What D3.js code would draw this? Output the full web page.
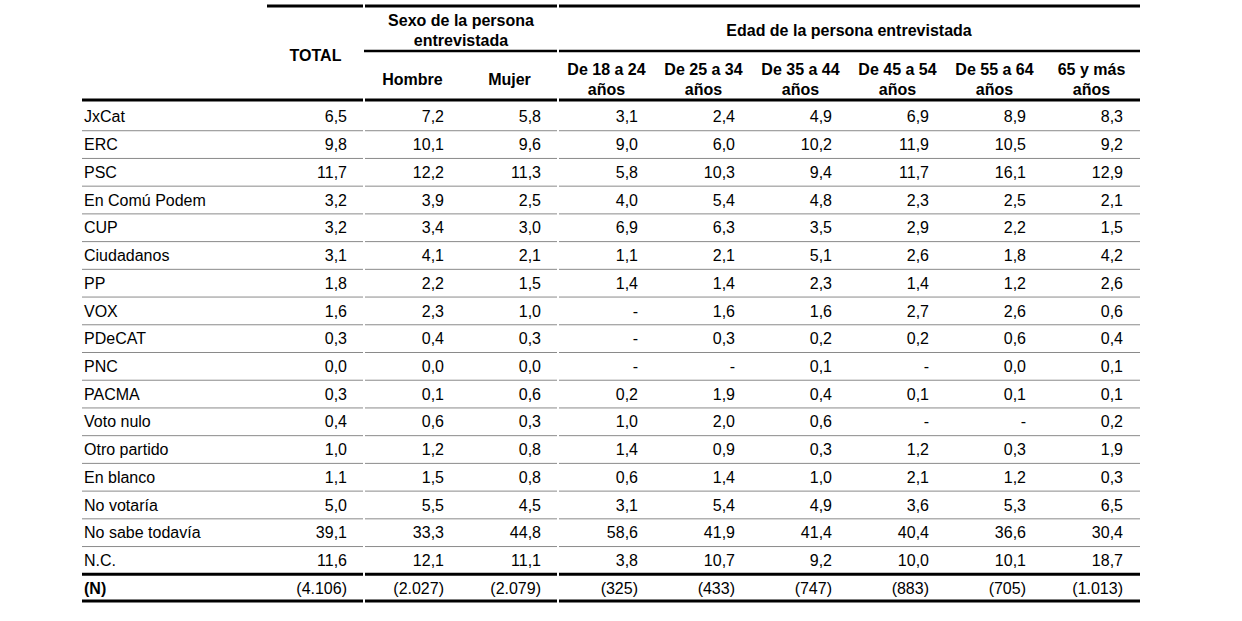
<!DOCTYPE html>
<html>
<head>
<meta charset="utf-8">
<script src="https://cdn.jsdelivr.net/npm/d3@7"></script>
<style>
  html, body { margin: 0; padding: 0; background: #fff; }
  svg { display: block; font-family: "Liberation Sans", Arial, sans-serif; }
</style>
</head>
<body>
<div id="table"></div>
<script>
// Filas (partidos / respuestas)
const rowLabels = ['JxCat', 'ERC', 'PSC', 'En Comú Podem', 'CUP', 'Ciudadanos', 'PP', 'VOX', 'PDeCAT', 'PNC',
    'PACMA', 'Voto nulo', 'Otro partido', 'En blanco', 'No votaría', 'No sabe todavía', 'N.C.'];

// Columnas
const columnKeys = ['total', 'hombre', 'mujer', 'e18', 'e25', 'e35', 'e45', 'e55', 'e65'];
const subHeaders = [[], ['Hombre'], ['Mujer'], ['De 18 a 24', 'años'], ['De 25 a 34', 'años'], ['De 35 a 44', 'años'],
    ['De 45 a 54', 'años'], ['De 55 a 64', 'años'], ['65 y más', 'años']];

// Valores por columna (null = "-")
const total  = [6.5, 9.8, 11.7, 3.2, 3.2, 3.1, 1.8, 1.6, 0.3, 0.0, 0.3, 0.4, 1.0, 1.1, 5.0, 39.1, 11.6];
const hombre = [7.2, 10.1, 12.2, 3.9, 3.4, 4.1, 2.2, 2.3, 0.4, 0.0, 0.1, 0.6, 1.2, 1.5, 5.5, 33.3, 12.1];
const mujer  = [5.8, 9.6, 11.3, 2.5, 3.0, 2.1, 1.5, 1.0, 0.3, 0.0, 0.6, 0.3, 0.8, 0.8, 4.5, 44.8, 11.1];
const e18    = [3.1, 9.0, 5.8, 4.0, 6.9, 1.1, 1.4, null, null, null, 0.2, 1.0, 1.4, 0.6, 3.1, 58.6, 3.8];
const e25    = [2.4, 6.0, 10.3, 5.4, 6.3, 2.1, 1.4, 1.6, 0.3, null, 1.9, 2.0, 0.9, 1.4, 5.4, 41.9, 10.7];
const e35    = [4.9, 10.2, 9.4, 4.8, 3.5, 5.1, 2.3, 1.6, 0.2, 0.1, 0.4, 0.6, 0.3, 1.0, 4.9, 41.4, 9.2];
const e45    = [6.9, 11.9, 11.7, 2.3, 2.9, 2.6, 1.4, 2.7, 0.2, null, 0.1, null, 1.2, 2.1, 3.6, 40.4, 10.0];
const e55    = [8.9, 10.5, 16.1, 2.5, 2.2, 1.8, 1.2, 2.6, 0.6, 0.0, 0.1, null, 0.3, 1.2, 5.3, 36.6, 10.1];
const e65    = [8.3, 9.2, 12.9, 2.1, 1.5, 4.2, 2.6, 0.6, 0.4, 0.1, 0.1, 0.2, 1.9, 0.3, 6.5, 30.4, 18.7];

// Tamaño de muestra (N)
const sampleN = [4106, 2027, 2079, 325, 433, 747, 883, 705, 1013];

const series = { total, hombre, mujer, e18, e25, e35, e45, e55, e65 };

const width = 1242, height = 621;
const locale = d3.formatLocale({ decimal: ',', thousands: '.', grouping: [3], currency: ['', '€'] });
const fmtPct = locale.format('.1f');
const fmtN = locale.format(',d');

const svg = d3.select('#table')
    .append('svg')
    .attr('width', width)
    .attr('height', height);

// Escalas
const xScale = d3.scaleBand()
    .domain(columnKeys)
    .range([267, 1140]);

const allRows = [...rowLabels, '(N)'];
const yScale = d3.scaleBand()
    .domain(allRows)
    .range([103, 602]);

const labelX = 84;
const tableLeft = 82, tableRight = 1140;
const gap = 2;
const breaks = [xScale('hombre'), xScale('e18')];

// segmentos con pequeños cortes entre grupos de columnas
function segments(x0, x1) {
    const pts = [x0, ...breaks.filter(b => b > x0 && b < x1), x1];
    const out = [];
    for (let i = 0; i < pts.length - 1; i++) {
        out.push([pts[i] + (i > 0 ? gap / 2 : 0), pts[i + 1] - (i < pts.length - 2 ? gap / 2 : 0)]);
    }
    return out;
}

function hline(y, x0, x1, w, color) {
    segments(x0, x1).forEach(([a, b]) => {
        svg.append('line')
            .attr('x1', a).attr('x2', b)
            .attr('y1', y).attr('y2', y)
            .attr('stroke', color)
            .attr('stroke-width', w);
    });
}

// Líneas finas entre filas
rowLabels.slice(1).forEach(r => hline(yScale(r), tableLeft, tableRight, 1, '#8a8a8a'));

// Líneas gruesas
hline(6, xScale('total'), tableRight, 3, '#000');
hline(51, xScale('hombre'), tableRight, 2.5, '#000');
hline(100, tableLeft, tableRight, 3, '#000');
hline(yScale('(N)'), tableLeft, tableRight, 3, '#000');
hline(yScale('(N)') + yScale.bandwidth() - 1, tableLeft, tableRight, 3, '#000');

// Cabeceras
const head = svg.append('g')
    .attr('font-weight', 'bold')
    .attr('font-size', 16)
    .attr('fill', '#000')
    .attr('text-anchor', 'middle');

const colCenter = k => xScale(k) + xScale.bandwidth() / 2;

head.append('text').attr('x', colCenter('total')).attr('y', 55).attr('dy', '0.35em').text('TOTAL');

const sexCenter = (xScale('hombre') + xScale('mujer') + xScale.bandwidth()) / 2;
head.append('text').attr('x', sexCenter).attr('y', 20).attr('dy', '0.35em').text('Sexo de la persona');
head.append('text').attr('x', sexCenter).attr('y', 40).attr('dy', '0.35em').text('entrevistada');

const ageCenter = (xScale('e18') + xScale('e65') + xScale.bandwidth()) / 2;
head.append('text').attr('x', ageCenter).attr('y', 30).attr('dy', '0.35em').text('Edad de la persona entrevistada');

columnKeys.forEach((k, i) => {
    const lines = subHeaders[i];
    if (lines.length === 1) {
        head.append('text').attr('x', colCenter(k)).attr('y', 79).attr('dy', '0.35em').text(lines[0]);
    } else if (lines.length === 2) {
        head.append('text').attr('x', colCenter(k)).attr('y', 69).attr('dy', '0.35em').text(lines[0]);
        head.append('text').attr('x', colCenter(k)).attr('y', 89).attr('dy', '0.35em').text(lines[1]);
    }
});

// Cuerpo
const body = svg.append('g')
    .attr('font-size', 16)
    .attr('fill', '#000');

const valueX = k => xScale(k) + xScale.bandwidth() - 17;
const rowCenter = r => yScale(r) + yScale.bandwidth() / 2;

rowLabels.forEach((r, i) => {
    body.append('text')
        .attr('x', labelX)
        .attr('y', rowCenter(r))
        .attr('dy', '0.35em')
        .text(r);

    columnKeys.forEach(k => {
        const v = series[k][i];
        body.append('text')
            .attr('x', valueX(k))
            .attr('y', rowCenter(r))
            .attr('dy', '0.35em')
            .attr('text-anchor', 'end')
            .text(v === null ? '-' : fmtPct(v));
    });
});

// Fila (N)
body.append('text')
    .attr('x', labelX)
    .attr('y', rowCenter('(N)'))
    .attr('dy', '0.35em')
    .attr('font-weight', 'bold')
    .text('(N)');

columnKeys.forEach((k, i) => {
    body.append('text')
        .attr('x', valueX(k))
        .attr('y', rowCenter('(N)'))
        .attr('dy', '0.35em')
        .attr('text-anchor', 'end')
        .text('(' + fmtN(sampleN[i]) + ')');
});
</script>
</body>
</html>
